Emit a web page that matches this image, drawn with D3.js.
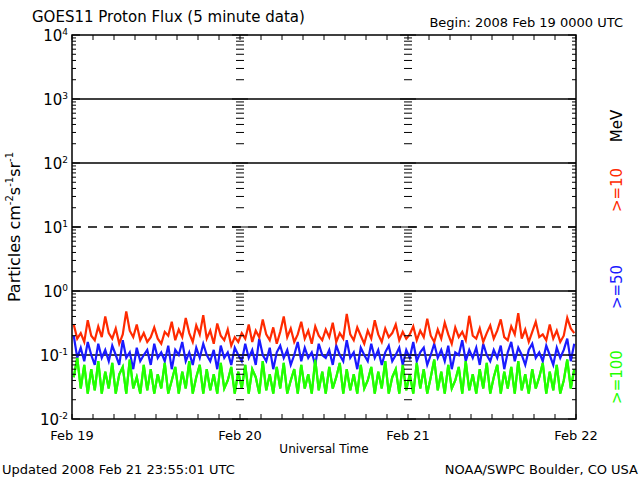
<!DOCTYPE html>
<html><head><meta charset="utf-8">
<script src="https://cdn.jsdelivr.net/npm/d3@7"></script>
<style>body{margin:0;background:#fff}text{font-family:"DejaVu Sans",sans-serif}</style>
</head><body>
<svg id="chart" width="640" height="480"></svg>
<script>
// Proton flux, one value per 30 minutes, Feb 19 00:00 .. Feb 22 00:00
const p10 = [
0.30,0.18,0.22,0.16,0.35,0.20,0.17,0.28,0.19,0.40,0.22,0.18,0.26,0.15,0.21,0.48,0.24,0.19,0.30,0.17,0.22,0.16,0.19,0.27,
0.18,0.15,0.23,0.20,0.33,0.17,0.25,0.19,0.38,0.22,0.16,0.29,0.21,0.42,0.18,0.24,0.15,0.31,0.20,0.17,0.25,0.14,0.19,0.16,
0.22,0.18,0.30,0.16,0.24,0.19,0.36,0.21,0.17,0.27,0.15,0.23,0.40,0.19,0.26,0.16,0.21,0.33,0.18,0.24,0.15,0.28,0.20,0.17,
0.25,0.19,0.32,0.16,0.22,0.18,0.44,0.21,0.17,0.27,0.20,0.15,0.24,0.18,0.35,0.21,0.16,0.26,0.19,0.22,0.30,0.17,0.23,0.18,
0.21,0.28,0.17,0.24,0.19,0.37,0.20,0.16,0.25,0.18,0.32,0.21,0.15,0.27,0.19,0.23,0.17,0.41,0.20,0.18,0.26,0.16,0.22,0.29,
0.18,0.24,0.36,0.19,0.17,0.28,0.21,0.45,0.18,0.25,0.16,0.23,0.33,0.19,0.21,0.17,0.30,0.18,0.24,0.16,0.20,0.38,0.26,0.22
];
const p50 = [
0.20,0.09,0.13,0.08,0.16,0.10,0.07,0.15,0.09,0.12,0.08,0.14,0.10,0.07,0.17,0.09,0.11,0.06,0.13,0.08,0.10,0.12,0.07,0.15,
0.09,0.11,0.08,0.14,0.06,0.12,0.10,0.16,0.08,0.11,0.07,0.13,0.09,0.15,0.10,0.08,0.12,0.06,0.14,0.09,0.11,0.07,0.13,0.10,
0.08,0.15,0.09,0.12,0.07,0.18,0.10,0.08,0.13,0.06,0.11,0.14,0.09,0.12,0.07,0.10,0.16,0.08,0.13,0.09,0.11,0.07,0.15,0.10,
0.09,0.12,0.07,0.14,0.10,0.08,0.17,0.09,0.11,0.06,0.13,0.10,0.08,0.15,0.09,0.12,0.07,0.11,0.14,0.08,0.10,0.13,0.07,0.12,
0.09,0.16,0.08,0.11,0.13,0.07,0.10,0.15,0.09,0.12,0.08,0.14,0.06,0.11,0.10,0.17,0.08,0.12,0.09,0.13,0.07,0.15,0.10,0.08,
0.12,0.09,0.14,0.06,0.11,0.16,0.08,0.13,0.10,0.07,0.12,0.15,0.09,0.11,0.08,0.14,0.10,0.07,0.13,0.09,0.12,0.18,0.08,0.15
];
const p100 = [
0.045,0.090,0.030,0.070,0.025,0.060,0.028,0.080,0.025,0.055,0.030,0.075,0.025,0.050,0.065,0.025,0.085,0.030,0.045,0.025,0.070,0.028,0.060,0.025,
0.050,0.030,0.075,0.025,0.040,0.065,0.025,0.055,0.030,0.080,0.025,0.045,0.070,0.025,0.060,0.028,0.050,0.025,0.075,0.030,0.040,0.065,0.025,0.055,
0.030,0.070,0.025,0.060,0.045,0.025,0.080,0.028,0.050,0.025,0.065,0.030,0.075,0.025,0.040,0.060,0.025,0.070,0.030,0.050,0.025,0.085,0.028,0.055,
0.025,0.065,0.030,0.045,0.075,0.025,0.060,0.028,0.050,0.025,0.070,0.030,0.040,0.065,0.025,0.055,0.030,0.080,0.025,0.045,0.060,0.025,0.070,0.028,
0.050,0.025,0.075,0.030,0.060,0.025,0.045,0.085,0.028,0.055,0.025,0.070,0.030,0.040,0.065,0.025,0.080,0.028,0.050,0.025,0.060,0.030,0.075,0.025,
0.045,0.070,0.025,0.055,0.030,0.065,0.025,0.080,0.028,0.050,0.025,0.060,0.030,0.045,0.075,0.025,0.055,0.028,0.070,0.025,0.040,0.085,0.030,0.060
];
const dayLabels = ["Feb 19", "Feb 20", "Feb 21", "Feb 22"];
const decades = [-2, -1, 0, 1, 2, 3, 4];

const svg = d3.select("#chart");
const x0 = 72, x1 = 576, y0 = 419, y1 = 35;

const x = d3.scaleLinear().domain([0, 72]).range([x0, x1]); // hours
const y = d3.scaleLog().domain([0.01, 10000]).range([y0, y1]);

// threshold lines
[1000, 100, 1, 0.1].forEach(v => {
  svg.append("line").attr("x1", x0).attr("x2", x1).attr("y1", y(v)).attr("y2", y(v))
    .attr("stroke", "#000").attr("stroke-width", 1.5);
});
svg.append("line").attr("x1", x0).attr("x2", x1).attr("y1", y(10)).attr("y2", y(10))
  .attr("stroke", "#000").attr("stroke-width", 1.5).attr("stroke-dasharray", "9,7");

// data traces
const step = 72 / p10.length;
const line = d3.line().x((d, i) => x(i * step + step / 2)).y(d => y(d));
[[p100, "#22ff00"], [p50, "#1a1aff"], [p10, "#ff2a00"]].forEach(([data, c]) => {
  svg.append("path").datum(data).attr("d", line)
    .attr("fill", "none").attr("stroke", c).attr("stroke-width", 2.2);
});
// green on top where it overlaps blue, as in the original
svg.append("path").datum(p100).attr("d", line)
  .attr("fill", "none").attr("stroke", "#22ff00").attr("stroke-width", 2.2);

// log minor ticks at edges and day separators
const minor = [];
for (let e = -2; e < 4; e++) for (let m = 1; m < 10; m++) minor.push({ v: m * Math.pow(10, e), major: m === 1 });
minor.push({ v: 10000, major: true });
[0, 24, 48, 72].forEach(h => {
  const xx = x(h);
  minor.forEach(t => {
    const len = t.major ? 8 : 4;
    if (h < 72) svg.append("line").attr("x1", xx).attr("x2", xx + len).attr("y1", y(t.v)).attr("y2", y(t.v)).attr("stroke", "#000");
    if (h > 0) svg.append("line").attr("x1", xx - len).attr("x2", xx).attr("y1", y(t.v)).attr("y2", y(t.v)).attr("stroke", "#000");
  });
});
// hour ticks every 3h top and bottom
d3.range(0, 73, 3).forEach(h => {
  svg.append("line").attr("x1", x(h)).attr("x2", x(h)).attr("y1", y0).attr("y2", y0 - 5).attr("stroke", "#000");
  svg.append("line").attr("x1", x(h)).attr("x2", x(h)).attr("y1", y1).attr("y2", y1 + 5).attr("stroke", "#000");
});

// frame
svg.append("rect").attr("x", x0).attr("y", y1).attr("width", x1 - x0).attr("height", y0 - y1)
  .attr("fill", "none").attr("stroke", "#000").attr("stroke-width", 1.5);

// y tick labels
decades.forEach(e => {
  const t = svg.append("text").attr("x", x0 - 4).attr("y", y(Math.pow(10, e)) + 6)
    .attr("text-anchor", "end").attr("font-size", 15);
  t.append("tspan").text("10");
  t.append("tspan").attr("dy", -6).attr("font-size", 9).text(e);
});
// x tick labels
dayLabels.forEach((d, i) => {
  svg.append("text").attr("x", x(i * 24)).attr("y", 440).attr("text-anchor", "middle")
    .attr("font-size", 13).text(d);
});

svg.append("text").attr("x", 32).attr("y", 22).attr("font-size", 15).text("GOES11 Proton Flux (5 minute data)");
svg.append("text").attr("x", 623).attr("y", 27).attr("text-anchor", "end").attr("font-size", 13).text("Begin: 2008 Feb 19 0000 UTC");
svg.append("text").attr("x", 324).attr("y", 453).attr("text-anchor", "middle").attr("font-size", 12).text("Universal Time");
svg.append("text").attr("x", 2).attr("y", 474).attr("font-size", 13).text("Updated 2008 Feb 21 23:55:01 UTC");
svg.append("text").attr("x", 638).attr("y", 474).attr("text-anchor", "end").attr("font-size", 13).text("NOAA/SWPC Boulder, CO USA");

// y axis title
const yt = svg.append("text").attr("transform", "translate(20,227) rotate(-90)").attr("text-anchor", "middle").attr("font-size", 16);
yt.append("tspan").text("Particles cm");
yt.append("tspan").attr("dy", -7).attr("font-size", 10).text("-2");
yt.append("tspan").attr("dy", 7).text("s");
yt.append("tspan").attr("dy", -7).attr("font-size", 10).text("-1");
yt.append("tspan").attr("dy", 7).text("sr");
yt.append("tspan").attr("dy", -7).attr("font-size", 10).text("-1");

// energy legend
[["MeV", "#000", 126], [">=10", "#ff2a00", 190], [">=50", "#1a1aff", 287], [">=100", "#22ff00", 377]].forEach(([s, c, yy]) => {
  svg.append("text").attr("transform", `translate(622,${yy}) rotate(-90)`).attr("text-anchor", "middle")
    .attr("font-size", 15).attr("fill", c).text(s);
});
</script>
</body></html>
